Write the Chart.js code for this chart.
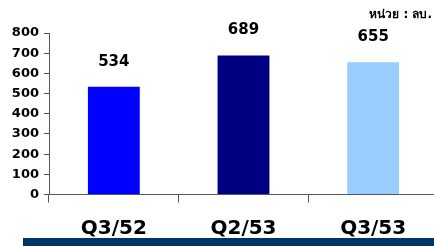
<!DOCTYPE html>
<html>
<head>
<meta charset="utf-8">
<script src="https://cdn.jsdelivr.net/npm/chart.js@4.4.1/dist/chart.umd.min.js"></script>
<style>
  html, body { margin: 0; padding: 0; background: #fff; overflow: hidden; width: 434px; height: 246px; }
  #wrap { position: relative; width: 440px; height: 246px; }
</style>
</head>
<body>
<div id="wrap"><canvas id="chart"></canvas></div>
<script>
// ---- data ----
const quarters = ['Q3/52', 'Q2/53', 'Q3/53'];
const values = [534, 689, 655];
const barColors = ['#0000FF', '#000080', '#99CCFF'];
const yTicks = [0, 100, 200, 300, 400, 500, 600, 700, 800];
const unitLabel = 'หน่วย : ลบ.';

const FONT = '"DejaVu Sans", Verdana, sans-serif';

// value labels above bars + unit text + bottom banner
const decorations = {
  id: 'decorations',
  afterDatasetsDraw(chart) {
    const ctx = chart.ctx;
    const meta = chart.getDatasetMeta(0);
    ctx.save();
    ctx.fillStyle = '#000';
    ctx.font = 'bold 15px ' + FONT;
    ctx.textAlign = 'center';
    ctx.textBaseline = 'middle';
    meta.data.forEach((bar, i) => {
      ctx.fillText(String(values[i]), bar.x, bar.y - 25);
    });
    ctx.restore();
  },
  afterDraw(chart) {
    const ctx = chart.ctx;
    ctx.save();
    ctx.fillStyle = '#003366';
    ctx.fillRect(23, 238, chart.width, 8);
    ctx.fillStyle = '#000';
    ctx.font = 'bold 12px ' + FONT;
    ctx.textAlign = 'right';
    ctx.textBaseline = 'middle';
    ctx.fillText(unitLabel, 432, 15);
    ctx.restore();
  }
};

new Chart(document.getElementById('chart'), {
  type: 'bar',
  data: {
    labels: quarters,
    datasets: [{
      data: values,
      backgroundColor: barColors,
      borderWidth: 0,
      categoryPercentage: 1,
      barPercentage: 0.4
    }]
  },
  options: {
    responsive: true,
    maintainAspectRatio: false,
    animation: false,
    layout: { padding: { top: 33, right: 2, left: 0, bottom: 0 } },
    plugins: { legend: { display: false }, tooltip: { enabled: false } },
    scales: {
      x: {
        offset: true,
        grid: { offset: true, drawOnChartArea: false, drawTicks: true, tickLength: 8, color: '#555', lineWidth: 1 },
        border: { display: true, color: '#555', width: 1 },
        ticks: { color: '#000', font: { family: FONT, size: 20, weight: 'bold' }, padding: 14, maxRotation: 0 },
        afterFit(scale) { scale.height = 51.5; }
      },
      y: {
        min: 0,
        max: 800,
        afterBuildTicks(scale) { scale.ticks = yTicks.map(v => ({ value: v })); },
        grid: { drawOnChartArea: false, drawTicks: true, tickLength: 5, color: '#555' },
        border: { display: true, color: '#555', width: 1 },
        ticks: { color: '#000', font: { family: FONT, size: 13, weight: 'bold' }, padding: 5 },
        afterFit(scale) { scale.width = 49; }
      }
    }
  },
  plugins: [decorations]
});
</script>
</body>
</html>
